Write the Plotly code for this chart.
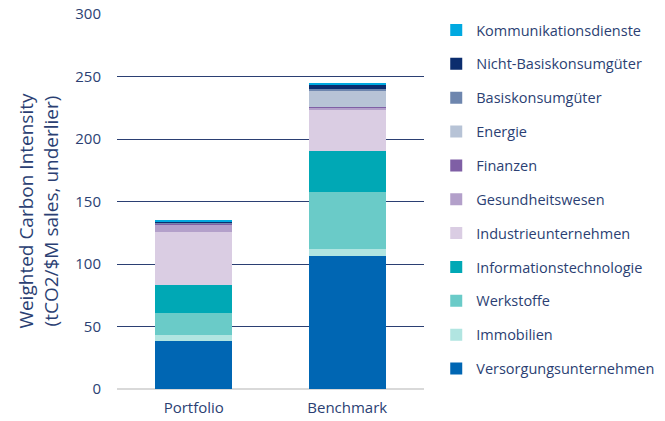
import plotly.graph_objects as go

categories = ["Portfolio", "Benchmark"]
sectors = ["Versorgungsunternehmen", "Immobilien", "Werkstoffe", "Informationstechnologie",
           "Industrieunternehmen", "Gesundheitswesen", "Finanzen", "Energie",
           "Basiskonsumgüter", "Nicht-Basiskonsumgüter", "Kommunikationsdienste"]
portfolio = [38.5, 4.6, 17.5, 22.4, 42.5, 6.2, 0.3, 0.6, 0.4, 1.0, 1.5]
benchmark = [106.1, 5.6, 46.0, 32.4, 32.8, 2.4, 0.5, 13.3, 0.8, 3.2, 1.6]
colors = ["#0066B3", "#B1E5E1", "#6ACBC8", "#00A8B5", "#DACDE3", "#B3A0CA",
          "#7F5FA5", "#B7C3D6", "#6E86AE", "#0B2D6E", "#00A9E0"]
y_title = "Weighted Carbon Intensity<br>(tCO2/$M sales, underlier)"

navy = "#2B3F73"
fig = go.Figure()
n = len(sectors)
for i, s in enumerate(sectors):
    fig.add_trace(go.Bar(x=categories, y=[portfolio[i], benchmark[i]], name=s,
                         marker=dict(color=colors[i], line=dict(width=0)),
                         legendgroup=s, legendrank=n - i))

fig.add_annotation(text=y_title, xref="paper", yref="paper", x=-0.255, y=0.475,
                   xanchor="center", yanchor="middle", textangle=-90, showarrow=False,
                   font=dict(size=19, color=navy))

fig.update_layout(
    barmode="stack", bargap=0.5,
    width=665, height=421,
    margin=dict(l=117, r=241, t=14, b=32),
    plot_bgcolor="white", paper_bgcolor="white",
    font=dict(family="Open Sans", color=navy, size=15),
    showlegend=True,
    legend=dict(traceorder="grouped", xref="container", yref="container",
                x=0.656, xanchor="left", y=0.526, yanchor="middle",
                font=dict(size=14.5, color=navy), tracegroupgap=12,
                itemwidth=30, bgcolor="rgba(0,0,0,0)", maxheight=421),
    yaxis=dict(range=[0, 300], dtick=50, showgrid=True, gridcolor=navy, gridwidth=1,
               zeroline=True, zerolinecolor="#D9D9D9", zerolinewidth=2,
               ticks="", ticklabelstandoff=15, tickfont=dict(size=15, color=navy),
               automargin=False),
    xaxis=dict(showline=False, ticks="", tickfont=dict(size=15, color=navy),
               automargin=False, ticklabelstandoff=8),
)
fig.write_html("out.html", config={"displayModeBar": False})
with open("out.html", encoding="utf-8") as f:
    html = f.read()
html = html.replace("<body>", '<body style="margin:0">', 1)
with open("out.html", "w", encoding="utf-8") as f:
    f.write(html)
